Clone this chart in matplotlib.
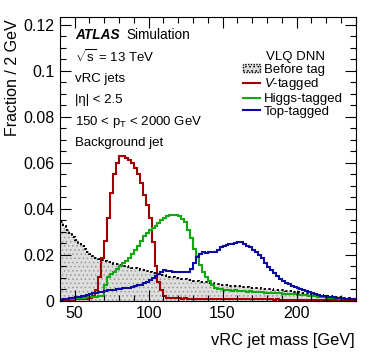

# vRC jet mass for background jets, before and after VLQ DNN tagging

import numpy as np
import matplotlib
matplotlib.use('Agg')
import matplotlib.pyplot as plt
from matplotlib.patches import Patch
from matplotlib.lines import Line2D
from matplotlib.ticker import MultipleLocator

plt.rcParams['font.family'] = ['Liberation Sans', 'DejaVu Sans']
plt.rcParams['mathtext.fontset'] = 'custom'
plt.rcParams['mathtext.rm'] = 'Liberation Sans'
plt.rcParams['mathtext.it'] = 'Liberation Sans:italic'
plt.rcParams['hatch.linewidth'] = 0.6

# 2 GeV bins from 40 to 240 GeV
bin_edges = np.arange(40, 242, 2)

before_tag = [
    0.0342, 0.0326, 0.0310, 0.0294, 0.0279, 0.0264, 0.0250, 0.0237, 0.0224, 0.0212,
    0.0202, 0.0194, 0.0187, 0.0181, 0.0176, 0.0172, 0.0168, 0.0165, 0.0162, 0.0159,
    0.0156, 0.0153, 0.0150, 0.0147, 0.0144, 0.0141, 0.0138, 0.0135, 0.0132, 0.0129,
    0.0126, 0.0123, 0.0120, 0.0117, 0.0114, 0.0111, 0.0108, 0.0105, 0.0102, 0.0100,
    0.0098, 0.0096, 0.0094, 0.0092, 0.0090, 0.0088, 0.0086, 0.0084, 0.0082, 0.0080,
    0.0078, 0.0076, 0.0074, 0.0072, 0.0071, 0.0069, 0.0068, 0.0066, 0.0065, 0.0064,
    0.0063, 0.0062, 0.0061, 0.0060, 0.0058, 0.0057, 0.0056, 0.0055, 0.0053, 0.0052,
    0.0051, 0.0050, 0.0049, 0.0047, 0.0046, 0.0045, 0.0043, 0.0042, 0.0040, 0.0039,
    0.0037, 0.0035, 0.0034, 0.0032, 0.0030, 0.0028, 0.0027, 0.0025, 0.0024, 0.0022,
    0.0021, 0.0019, 0.0018, 0.0016, 0.0015, 0.0014, 0.0012, 0.0011, 0.0010, 0.0009,
]

v_tagged = [
    0.0003, 0.0004, 0.0004, 0.0005, 0.0005, 0.0006, 0.0007, 0.0008, 0.0009, 0.0010,
    0.0013, 0.0019, 0.0045, 0.0105, 0.0185, 0.0260, 0.0360, 0.0470, 0.0550, 0.0600,
    0.0628, 0.0632, 0.0622, 0.0612, 0.0600, 0.0578, 0.0550, 0.0513, 0.0460, 0.0415,
    0.0360, 0.0255, 0.0150, 0.0082, 0.0045, 0.0020, 0.0014, 0.0012, 0.0011, 0.0011,
    0.0011, 0.0010, 0.0011, 0.0010, 0.0010, 0.0010, 0.0010, 0.0009, 0.0010, 0.0009,
    0.0009, 0.0009, 0.0009, 0.0008, 0.0009, 0.0008, 0.0008, 0.0008, 0.0008, 0.0007,
    0.0008, 0.0007, 0.0007, 0.0007, 0.0007, 0.0006, 0.0007, 0.0006, 0.0006, 0.0006,
    0.0006, 0.0006, 0.0005, 0.0006, 0.0005, 0.0005, 0.0005, 0.0005, 0.0005, 0.0004,
    0.0005, 0.0004, 0.0004, 0.0004, 0.0004, 0.0004, 0.0004, 0.0003, 0.0004, 0.0003,
    0.0003, 0.0003, 0.0003, 0.0003, 0.0003, 0.0003, 0.0003, 0.0002, 0.0003, 0.0002,
]

higgs_tagged = [
    0.0006, 0.0007, 0.0008, 0.0009, 0.0010, 0.0011, 0.0012, 0.0013, 0.0014, 0.0015,
    0.0016, 0.0017, 0.0018, 0.0020, 0.0023, 0.0069, 0.0105, 0.0118, 0.0126, 0.0140,
    0.0150, 0.0163, 0.0175, 0.0188, 0.0205, 0.0220, 0.0240, 0.0260, 0.0280, 0.0296,
    0.0308, 0.0318, 0.0326, 0.0338, 0.0350, 0.0360, 0.0368, 0.0373, 0.0375, 0.0372,
    0.0368, 0.0358, 0.0342, 0.0310, 0.0272, 0.0225, 0.0195, 0.0155, 0.0126, 0.0105,
    0.0085, 0.0068, 0.0058, 0.0052, 0.0050, 0.0048, 0.0047, 0.0046, 0.0044, 0.0045,
    0.0043, 0.0042, 0.0041, 0.0040, 0.0041, 0.0039, 0.0038, 0.0037, 0.0038, 0.0036,
    0.0035, 0.0036, 0.0034, 0.0033, 0.0032, 0.0031, 0.0030, 0.0030, 0.0029, 0.0028,
    0.0027, 0.0026, 0.0025, 0.0024, 0.0022, 0.0020, 0.0019, 0.0017, 0.0016, 0.0015,
    0.0014, 0.0013, 0.0012, 0.0011, 0.0010, 0.0009, 0.0009, 0.0008, 0.0007, 0.0007,
]

top_tagged = [
    0.0005, 0.0007, 0.0009, 0.0011, 0.0013, 0.0015, 0.0017, 0.0020, 0.0023, 0.0026,
    0.0029, 0.0032, 0.0035, 0.0038, 0.0040, 0.0043, 0.0045, 0.0047, 0.0049, 0.0050,
    0.0052, 0.0054, 0.0056, 0.0058, 0.0060, 0.0063, 0.0067, 0.0071, 0.0076, 0.0082,
    0.0090, 0.0098, 0.0106, 0.0118, 0.0126, 0.0132, 0.0130, 0.0128, 0.0126, 0.0127,
    0.0125, 0.0127, 0.0126, 0.0125, 0.0138, 0.0165, 0.0190, 0.0205, 0.0212, 0.0210,
    0.0212, 0.0214, 0.0213, 0.0222, 0.0232, 0.0240, 0.0242, 0.0246, 0.0248, 0.0250,
    0.0255, 0.0254, 0.0248, 0.0240, 0.0232, 0.0222, 0.0212, 0.0200, 0.0185, 0.0165,
    0.0148, 0.0132, 0.0120, 0.0108, 0.0095, 0.0085, 0.0078, 0.0072, 0.0066, 0.0060,
    0.0054, 0.0050, 0.0046, 0.0043, 0.0039, 0.0035, 0.0031, 0.0026, 0.0022, 0.0019,
    0.0017, 0.0016, 0.0015, 0.0013, 0.0012, 0.0011, 0.0010, 0.0009, 0.0008, 0.0007,
]

y_ticks = [0, 0.02, 0.04, 0.06, 0.08, 0.1, 0.12]
y_tick_labels = ['0', '0.02', '0.04', '0.06', '0.08', '0.1', '0.12']
x_ticks = [50, 100, 150, 200]

red = '#a00000'
green = '#12a812'
blue = '#0c0ca0'
fill_gray = '#dedede'

fig = plt.figure(figsize=(3.74, 3.59), dpi=100)
ax = fig.add_axes([0.160, 0.162, 0.791, 0.791])

# before tag: grey dotted fill with a dotted black outline
ax.stairs(before_tag, bin_edges, fill=True, facecolor=fill_gray,
          edgecolor='#9a9a9a', linewidth=0, hatch='....')
ax.stairs(before_tag, bin_edges, baseline=None, color='black',
          linewidth=1.4, linestyle=(0, (1.2, 1.2)))

ax.stairs(v_tagged, bin_edges, baseline=None, color=red, linewidth=1.5)
ax.stairs(higgs_tagged, bin_edges, baseline=None, color=green, linewidth=1.5)
ax.stairs(top_tagged, bin_edges, baseline=None, color=blue, linewidth=1.5)

ax.set_xlim(40, 240)
ax.set_ylim(0, 0.1235)

ax.set_xticks(x_ticks)
ax.set_yticks(y_ticks)
ax.set_yticklabels(y_tick_labels)
ax.xaxis.set_minor_locator(MultipleLocator(10))
ax.yaxis.set_minor_locator(MultipleLocator(0.005))
ax.tick_params(which='both', direction='in', top=True, right=True,
               labelsize=11.5, width=0.8)
ax.tick_params(which='major', length=8, pad=4)
ax.tick_params(which='minor', length=4)
for s in ax.spines.values():
    s.set_linewidth(0.8)

ax.set_xlabel('vRC jet mass [GeV]', fontsize=11.8, loc='right')
ax.set_ylabel('Fraction / 2 GeV', fontsize=11.5, loc='top')
ax.xaxis.set_label_coords(0.995, -0.115)
ax.yaxis.set_label_coords(-0.135, 0.99)

# ATLAS label and selection text
tx = 0.051
ax.text(tx, 0.937, 'ATLAS', fontsize=9.8, fontweight='bold', style='italic',
        va='center', transform=ax.transAxes)
ax.text(tx + 0.175, 0.937, 'Simulation', fontsize=9.8, va='center',
        transform=ax.transAxes)
lines = [r'$\sqrt{\mathrm{s}}$ = 13 TeV', 'vRC jets', '|η| < 2.5',
         r'150 < p$_{\mathrm{T}}$ < 2000 GeV', 'Background jet']
ys = [0.860, 0.782, 0.708, 0.631, 0.557]
for t, yy in zip(lines, ys):
    ax.text(tx, yy, t, fontsize=9.5, va='center', transform=ax.transAxes)

# legend
ax.text(0.697, 0.859, 'VLQ DNN', fontsize=9.5, va='center', transform=ax.transAxes)
handles = [
    Patch(facecolor=fill_gray, edgecolor='black', hatch='....',
          linestyle=(0, (1, 1)), linewidth=1.0),
    Line2D([], [], color=red, linewidth=1.5),
    Line2D([], [], color=green, linewidth=1.5),
    Line2D([], [], color=blue, linewidth=1.5),
]
labels = ['Before tag', r'$V$-tagged', 'Higgs-tagged', 'Top-tagged']
ax.legend(handles, labels, loc='upper left', bbox_to_anchor=(0.62, 0.835),
          frameon=False, fontsize=9.5, handlelength=1.25, handleheight=0.6,
          handletextpad=0.3, labelspacing=0.05, borderpad=0, borderaxespad=0)

fig.savefig('out.png', dpi=100)
